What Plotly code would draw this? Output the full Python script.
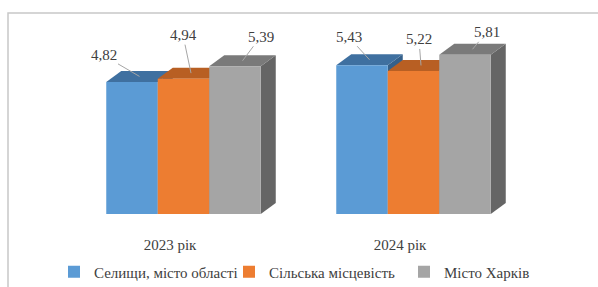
import plotly.graph_objects as go

# ---- data ----
categories = ["2023 рік", "2024 рік"]
series_names = ["Селищи, місто області", "Сільська місцевість", "Місто Харків"]
settlements = [4.82, 5.43]
rural = [4.94, 5.22]
kharkiv = [5.39, 5.81]
series_values = [settlements, rural, kharkiv]

# ---- style ----
front_colors = ["#5B9BD5", "#ED7D31", "#A5A5A5"]
top_colors = ["#3F70A0", "#B85F23", "#7A7A7A"]
side_colors = ["#35608A", "#9E501C", "#656565"]
FONT = "'Liberation Serif', 'DejaVu Serif', serif"
TXT = "#404040"

PX_X = 230.0    # px per category step
PX_Y = 27.4     # px per value unit
bar_w = 51.5 / PX_X
shift = 13.5 / PX_X
ddx = 15 / PX_X
ddy = 11 / PX_Y

W, H = 598, 287
ML, MR, MT, MB = 8, 0, 13, 73
plot_w = W - ML - MR
plot_h = H - MT - MB
cat0_px = 170

fig = go.Figure()
shapes = []
annotations = []

# label offsets (px) relative to top-face centre
label_off = [
    [(-36, -21), (-21, -23)],
    [(-8, -38), (-2, -26)],
    [(18, -24), (14, -17)],
]

for k, (name, vals) in enumerate(zip(series_names, series_values)):
    xs = [i + shift + (k - 1) * bar_w for i in range(len(categories))]
    fig.add_trace(go.Bar(
        x=xs, y=vals, width=bar_w, name=name,
        marker=dict(color=front_colors[k], line=dict(width=0)),
        hoverinfo="skip",
    ))

for i in range(len(categories)):
    for k, vals in enumerate(series_values):
        v = vals[i]
        xc = i + shift + (k - 1) * bar_w
        xl, xr = xc - bar_w / 2, xc + bar_w / 2
        side = (f"M{xr},0 L{xr+ddx},{ddy} L{xr+ddx},{v+ddy} L{xr},{v} Z")
        top = (f"M{xl},{v} L{xr},{v} L{xr+ddx},{v+ddy} L{xl+ddx},{v+ddy} Z")
        shapes.append(dict(type="path", path=side, xref="x", yref="y",
                           fillcolor=side_colors[k], line=dict(width=0), layer="below"))
        shapes.append(dict(type="path", path=top, xref="x", yref="y",
                           fillcolor=top_colors[k], line=dict(width=0), layer="below"))
        ax, ay = label_off[k][i]
        annotations.append(dict(
            x=xc + ddx / 2, y=v + ddy / 2, xref="x", yref="y",
            text=f"{v:.2f}".replace(".", ","), showarrow=True,
            arrowhead=0, arrowwidth=1, arrowcolor="#a6a6a6",
            ax=ax, ay=ay, font=dict(family=FONT, size=15, color=TXT),
        ))

# frame
shapes.append(dict(type="rect", xref="paper", yref="paper",
                   x0=0, x1=(W + 5 - ML) / plot_w, y0=-(MB + 10) / plot_h, y1=1,
                   line=dict(color="#c8c8c8", width=1.5), fillcolor="rgba(0,0,0,0)",
                   layer="below"))

fig.update_layout(
    width=W, height=H,
    margin=dict(l=ML, r=MR, t=MT, b=MB, pad=0, autoexpand=False),
    paper_bgcolor="white", plot_bgcolor="rgba(0,0,0,0)",
    barmode="overlay",
    shapes=shapes, annotations=annotations,
    font=dict(family=FONT, size=15, color=TXT),
    xaxis=dict(range=[(ML - cat0_px) / PX_X, (W - MR - cat0_px) / PX_X],
               tickvals=list(range(len(categories))), ticktext=categories,
               showgrid=False, zeroline=False, showline=False, ticks="",
               ticklabelstandoff=20, fixedrange=True,
               tickfont=dict(family=FONT, size=15, color=TXT)),
    yaxis=dict(range=[0, plot_h / PX_Y], visible=False, fixedrange=True),
    legend=dict(orientation="h", x=(54 - ML) / plot_w, xanchor="left",
                y=-(272 - (MT + plot_h)) / plot_h, yanchor="middle",
                entrywidth=130, entrywidthmode="pixels",
                font=dict(family=FONT, size=15, color=TXT),
                bgcolor="rgba(0,0,0,0)", traceorder="normal"),
    showlegend=True,
)

fig.write_html("out.html", config={"displayModeBar": False},
               post_script="document.body.style.margin='0';document.body.style.overflow='hidden';")
